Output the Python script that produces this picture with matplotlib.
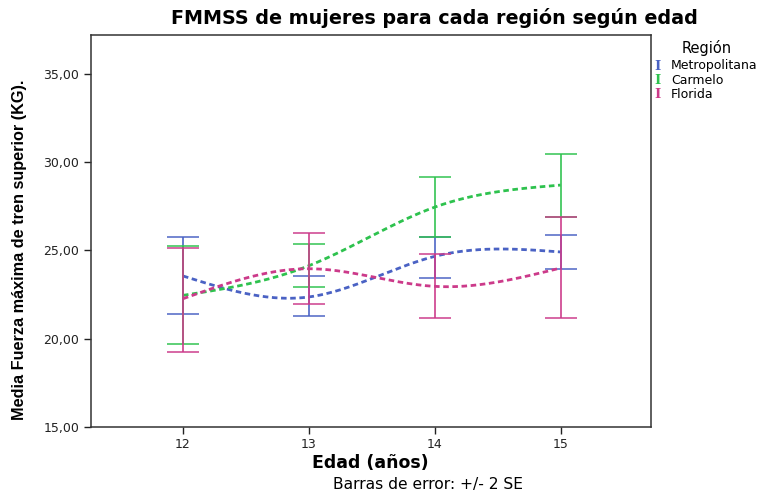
import numpy as np
import matplotlib
matplotlib.use("Agg")
import matplotlib.pyplot as plt

# -------------------------------
# DATA
# -------------------------------
edades = [12, 13, 14, 15]
regiones = ["Metropolitana", "Carmelo", "Florida"]
colores = ["#4a62c4", "#2ec24e", "#cc3a8a"]

media_metropolitana = [23.55, 22.36, 24.66, 24.91]
media_carmelo = [22.45, 24.13, 27.45, 28.70]
media_florida = [22.26, 23.96, 22.96, 24.00]

alto_metropolitana = [25.75, 23.53, 25.75, 25.85]
bajo_metropolitana = [21.38, 21.26, 23.43, 23.92]
alto_carmelo = [25.23, 25.36, 29.15, 30.47]
bajo_carmelo = [19.68, 22.92, 25.75, 26.89]
alto_florida = [25.15, 25.96, 24.81, 26.89]
bajo_florida = [19.26, 21.98, 21.17, 21.19]

y_ticks = [15, 20, 25, 30, 35]
y_tick_labels = ["15,00", "20,00", "25,00", "30,00", "35,00"]


def natural_spline(x, y, n=200):
    """Smooth drawing of the line through the means (natural cubic spline)"""
    x = np.asarray(x, float)
    y = np.asarray(y, float)
    k = len(x)
    h = np.diff(x)
    A = np.zeros((k, k))
    b = np.zeros(k)
    A[0, 0] = A[-1, -1] = 1
    for i in range(1, k - 1):
        A[i, i - 1] = h[i - 1]
        A[i, i] = 2 * (h[i - 1] + h[i])
        A[i, i + 1] = h[i]
        b[i] = 6 * ((y[i + 1] - y[i]) / h[i] - (y[i] - y[i - 1]) / h[i - 1])
    M = np.linalg.solve(A, b)
    xs = np.linspace(x[0], x[-1], n)
    idx = np.clip(np.searchsorted(x, xs) - 1, 0, k - 2)
    x0, x1 = x[idx], x[idx + 1]
    hh = x1 - x0
    ys = (M[idx] * (x1 - xs) ** 3 / (6 * hh) + M[idx + 1] * (xs - x0) ** 3 / (6 * hh)
          + (y[idx] / hh - M[idx] * hh / 6) * (x1 - xs)
          + (y[idx + 1] / hh - M[idx + 1] * hh / 6) * (xs - x0))
    return xs, ys


# -------------------------------
# PLOT
# -------------------------------
plt.rcParams['font.family'] = ['DejaVu Sans']

fig = plt.figure(figsize=(7.59, 5.01), dpi=100)
ax = fig.add_axes([0.12, 0.148, 0.738, 0.782])

medias = [media_metropolitana, media_carmelo, media_florida]
altos = [alto_metropolitana, alto_carmelo, alto_florida]
bajos = [bajo_metropolitana, bajo_carmelo, bajo_florida]

for nombre, color, media, alto, bajo in zip(regiones, colores, medias, altos, bajos):
    media = np.array(media)
    err = [media - np.array(bajo), np.array(alto) - media]
    ax.errorbar(edades, media, yerr=err, fmt='none', ecolor=color,
                elinewidth=1.3, capsize=11.5, capthick=1.2, alpha=0.9,
                label=nombre)
    xs, ys = natural_spline(edades, media)
    ax.plot(xs, ys, color=color, lw=2.0, dashes=(2.0, 1.3))

ax.set_xlim(11.27, 15.72)
ax.set_ylim(15, 37.2)
ax.set_xticks(edades)
ax.set_xticklabels([str(e) for e in edades], fontsize=9)
ax.set_yticks(y_ticks)
ax.set_yticklabels(y_tick_labels, fontsize=9)
ax.tick_params(direction='out', length=5, width=1, colors='#222222')
ax.tick_params(axis='x', pad=3)
for s in ax.spines.values():
    s.set_color('#333333')
    s.set_linewidth(1.1)

# title, axis labels and footnote
fig.text(434 / 759, 1 - 18 / 501, "FMMSS de mujeres para cada región según edad",
         fontsize=13.8, fontweight='bold', ha='center', va='center')
fig.text(370 / 759, 1 - 463 / 501, "Edad (años)", fontsize=12.5,
         fontweight='bold', ha='center', va='center')
ax.set_ylabel("Media Fuerza máxima de tren superior (KG).", fontsize=11.7,
              fontweight='bold', family=['Liberation Sans'])
ax.yaxis.set_label_coords(-0.114, 0.451)

fig.text(428 / 759, 1 - 485 / 501, "Barras de error: +/- 2 SE", fontsize=11.2,
         ha='center', va='center')

# legend with "I" markers
fig.text(707 / 759, 1 - 48 / 501, "Región", fontsize=10.5,
         ha='center', va='center')
for i, (nombre, color) in enumerate(zip(regiones, colores)):
    y = 1 - (66 + i * 14) / 501
    fig.text(654 / 759, y, "I", color=color, fontsize=9.5, fontweight='bold',
             family=['DejaVu Serif'], ha='left', va='center')
    fig.text(671 / 759, y, nombre, fontsize=9, ha='left', va='center')

fig.savefig("out.png", dpi=100)
